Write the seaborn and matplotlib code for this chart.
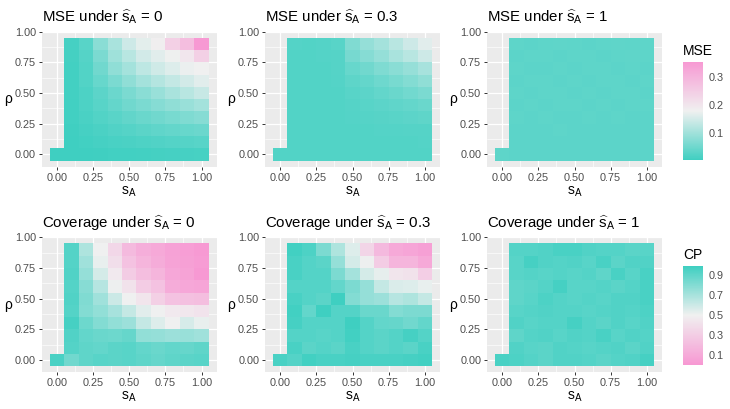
import pandas as pd
import matplotlib
matplotlib.use("Agg")
import matplotlib.pyplot as plt
import seaborn as sns
from matplotlib.colors import LinearSegmentedColormap

# grade dos parâmetros (colunas: s_A, linhas: rho de cima para baixo)
s_a = [0.0, 0.1, 0.2, 0.3, 0.4, 0.5, 0.6, 0.7, 0.8, 0.9, 1.0]
rho = [0.9, 0.8, 0.7, 0.6, 0.5, 0.4, 0.3, 0.2, 0.1, 0.0]
s_hat = ["0", "0.3", "1"]

axis_breaks = [0.0, 0.25, 0.5, 0.75, 1.0]
axis_labels = ["0.00", "0.25", "0.50", "0.75", "1.00"]
minor_breaks = [0.125, 0.375, 0.625, 0.875]
mse_ticks = [0.1, 0.2, 0.3]
cp_ticks = [0.1, 0.3, 0.5, 0.7, 0.9]

# MSE sob s_hat = 0
mse_0 = [
    [None, 0.012, 0.030, 0.080, 0.110, 0.145, 0.167, 0.183, 0.245, 0.280, 0.355],
    [None, 0.011, 0.028, 0.065, 0.100, 0.125, 0.150, 0.165, 0.178, 0.200, 0.245],
    [None, 0.010, 0.025, 0.055, 0.085, 0.105, 0.130, 0.148, 0.162, 0.175, 0.180],
    [None, 0.010, 0.025, 0.045, 0.065, 0.085, 0.105, 0.120, 0.135, 0.150, 0.165],
    [None, 0.010, 0.020, 0.035, 0.050, 0.065, 0.080, 0.095, 0.110, 0.125, 0.140],
    [None, 0.009, 0.020, 0.030, 0.042, 0.055, 0.065, 0.075, 0.085, 0.095, 0.105],
    [None, 0.008, 0.017, 0.025, 0.032, 0.040, 0.048, 0.055, 0.062, 0.068, 0.075],
    [None, 0.007, 0.013, 0.018, 0.023, 0.028, 0.033, 0.038, 0.042, 0.046, 0.050],
    [None, 0.006, 0.009, 0.012, 0.015, 0.018, 0.021, 0.024, 0.026, 0.028, 0.030],
    [0.005, 0.005, 0.006, 0.007, 0.008, 0.009, 0.010, 0.011, 0.012, 0.013, 0.014],
]

# MSE sob s_hat = 0.3
mse_03 = [
    [None, 0.026, 0.025, 0.026, 0.030, 0.070, 0.090, 0.105, 0.125, 0.145, 0.165],
    [None, 0.025, 0.025, 0.026, 0.028, 0.060, 0.075, 0.090, 0.110, 0.125, 0.145],
    [None, 0.025, 0.025, 0.025, 0.027, 0.045, 0.055, 0.068, 0.080, 0.092, 0.108],
    [None, 0.025, 0.025, 0.025, 0.026, 0.036, 0.043, 0.052, 0.062, 0.072, 0.085],
    [None, 0.025, 0.025, 0.025, 0.025, 0.030, 0.035, 0.041, 0.048, 0.056, 0.065],
    [None, 0.025, 0.025, 0.025, 0.025, 0.027, 0.030, 0.034, 0.038, 0.043, 0.048],
    [None, 0.025, 0.025, 0.025, 0.025, 0.026, 0.027, 0.029, 0.031, 0.034, 0.037],
    [None, 0.025, 0.025, 0.025, 0.025, 0.025, 0.025, 0.026, 0.026, 0.027, 0.028],
    [None, 0.025, 0.025, 0.025, 0.025, 0.025, 0.025, 0.025, 0.025, 0.025, 0.026],
    [0.025, 0.025, 0.025, 0.025, 0.025, 0.025, 0.025, 0.025, 0.025, 0.025, 0.025],
]

# MSE sob s_hat = 1
mse_1 = [
    [None, 0.036, 0.035, 0.036, 0.037, 0.036, 0.035, 0.036, 0.037, 0.036, 0.036],
    [None, 0.035, 0.036, 0.036, 0.035, 0.036, 0.036, 0.035, 0.036, 0.037, 0.036],
    [None, 0.036, 0.035, 0.035, 0.036, 0.035, 0.036, 0.036, 0.035, 0.036, 0.035],
    [None, 0.035, 0.036, 0.036, 0.035, 0.036, 0.035, 0.036, 0.036, 0.035, 0.036],
    [None, 0.036, 0.035, 0.036, 0.036, 0.035, 0.036, 0.035, 0.036, 0.036, 0.035],
    [None, 0.035, 0.036, 0.035, 0.036, 0.036, 0.035, 0.036, 0.035, 0.036, 0.036],
    [None, 0.036, 0.035, 0.036, 0.035, 0.035, 0.036, 0.035, 0.036, 0.035, 0.035],
    [None, 0.035, 0.035, 0.035, 0.036, 0.035, 0.035, 0.034, 0.035, 0.035, 0.034],
    [None, 0.035, 0.034, 0.035, 0.035, 0.034, 0.035, 0.034, 0.034, 0.035, 0.034],
    [0.036, 0.035, 0.034, 0.034, 0.035, 0.034, 0.034, 0.034, 0.035, 0.034, 0.034],
]

# cobertura sob s_hat = 0
cp_0 = [
    [None, 0.93, 0.68, 0.50, 0.36, 0.20, 0.13, 0.10, 0.06, 0.04, 0.02],
    [None, 0.93, 0.72, 0.52, 0.40, 0.24, 0.17, 0.12, 0.07, 0.05, 0.03],
    [None, 0.94, 0.75, 0.58, 0.46, 0.30, 0.22, 0.17, 0.09, 0.07, 0.01],
    [None, 0.93, 0.79, 0.66, 0.51, 0.42, 0.30, 0.24, 0.12, 0.09, 0.08],
    [None, 0.94, 0.81, 0.72, 0.60, 0.50, 0.44, 0.32, 0.24, 0.23, 0.22],
    [None, 0.93, 0.80, 0.76, 0.70, 0.62, 0.54, 0.50, 0.46, 0.45, 0.43],
    [None, 0.97, 0.86, 0.80, 0.76, 0.73, 0.62, 0.55, 0.50, 0.57, 0.52],
    [None, 0.94, 0.89, 0.87, 0.86, 0.88, 0.76, 0.75, 0.73, 0.74, 0.72],
    [None, 0.93, 0.90, 0.89, 0.91, 0.92, 0.89, 0.87, 0.89, 0.88, 0.90],
    [0.96, 0.85, 0.90, 0.92, 0.91, 0.92, 0.90, 0.88, 0.90, 0.91, 0.92],
]

# cobertura sob s_hat = 0.3
cp_03 = [
    [None, 0.98, 0.95, 0.82, 0.68, 0.55, 0.35, 0.19, 0.10, 0.08, 0.05],
    [None, 0.96, 0.93, 0.91, 0.75, 0.58, 0.51, 0.30, 0.17, 0.17, 0.10],
    [None, 0.96, 0.93, 0.93, 0.82, 0.71, 0.58, 0.53, 0.44, 0.42, 0.31],
    [None, 0.93, 0.93, 0.93, 0.89, 0.82, 0.75, 0.62, 0.56, 0.55, 0.52],
    [None, 0.96, 0.93, 0.91, 0.99, 0.80, 0.75, 0.73, 0.66, 0.68, 0.62],
    [None, 0.98, 0.89, 0.99, 0.93, 0.93, 0.87, 0.87, 0.80, 0.82, 0.82],
    [None, 0.97, 0.93, 0.93, 0.93, 0.99, 0.93, 0.89, 0.88, 0.85, 0.89],
    [None, 0.93, 0.93, 0.92, 0.93, 0.98, 0.93, 0.91, 0.93, 0.97, 0.93],
    [None, 0.96, 0.91, 0.93, 0.91, 0.96, 0.93, 0.91, 0.93, 0.91, 0.96],
    [0.96, 0.93, 0.98, 0.96, 0.96, 0.97, 0.96, 0.96, 0.96, 0.97, 0.98],
]

# cobertura sob s_hat = 1
cp_1 = [
    [None, 0.93, 0.93, 0.94, 0.96, 0.96, 0.94, 0.93, 0.93, 0.91, 0.92],
    [None, 0.92, 0.97, 0.94, 0.93, 0.94, 0.92, 0.96, 0.91, 0.94, 0.94],
    [None, 0.92, 0.93, 0.92, 0.93, 0.92, 0.93, 0.90, 0.96, 0.92, 0.96],
    [None, 0.90, 0.91, 0.93, 0.97, 0.92, 0.92, 0.93, 0.91, 0.93, 0.96],
    [None, 0.90, 0.92, 0.95, 0.93, 0.92, 0.93, 0.92, 0.94, 0.94, 0.96],
    [None, 0.92, 0.93, 0.94, 0.93, 0.93, 0.92, 0.93, 0.94, 0.93, 0.95],
    [None, 0.94, 0.92, 0.93, 0.93, 0.97, 0.93, 0.91, 0.94, 0.92, 0.94],
    [None, 0.90, 0.93, 0.94, 0.92, 0.94, 0.93, 0.96, 0.92, 0.94, 0.93],
    [None, 0.94, 0.92, 0.91, 0.94, 0.93, 0.92, 0.93, 0.94, 0.91, 0.94],
    [0.96, 0.95, 0.93, 0.91, 0.94, 0.94, 0.93, 0.91, 0.93, 0.94, 0.97],
]

teal = "#3FCFC1"
mid = "#F0F0F0"
pink = "#F799D3"

sns.set_theme(style="darkgrid", rc={
    "axes.facecolor": "#EBEBEB",
    "grid.color": "white",
    "axes.edgecolor": "none",
})
plt.rcParams["font.family"] = ["Liberation Sans", "DejaVu Sans"]
plt.rcParams["mathtext.fontset"] = "custom"
plt.rcParams["mathtext.rm"] = "Liberation Sans"
plt.rcParams["mathtext.it"] = "Liberation Sans:italic"


def to_frame(rows):
    df = pd.DataFrame(rows, index=rho, columns=s_a, dtype=float)
    return df.sort_index()


def cell(v):
    # posição na escala categórica do heatmap (passo 0.1)
    return v / 0.1 + 0.5


mse_frames = [to_frame(m) for m in (mse_0, mse_03, mse_1)]
cp_frames = [to_frame(m) for m in (cp_0, cp_03, cp_1)]

rows_spec = [
    ("MSE", mse_frames, LinearSegmentedColormap.from_list("mse", [teal, mid, pink]), mse_ticks),
    ("Coverage", cp_frames, LinearSegmentedColormap.from_list("cp", [pink, mid, teal]), cp_ticks),
]
legend_titles = ["MSE", "CP"]

fig = plt.figure(figsize=(7.3, 4.09), dpi=100)
W, H = 730, 409
col_left = [41.7, 265, 487]
panel_w = 175
row_top = [31.7, 237.3]
panel_h = 135
cbar_top = [61.7, 266]

x_lo = s_a[0] - 0.05
x_hi = s_a[-1] + 0.05
x_pad = 0.05 * (x_hi - x_lo)
y_lo = min(rho) - 0.05
y_hi = max(rho) + 0.05
y_pad = 0.05 * (y_hi - y_lo)

for r, (name, frames, cmap, cticks) in enumerate(rows_spec):
    vmin = min(f.min().min() for f in frames)
    vmax = max(f.max().max() for f in frames)
    cax = fig.add_axes([683.3 / W, 1 - (cbar_top[r] + 98.5) / H, 19.4 / W, 98.5 / H])
    for c, df in enumerate(frames):
        ax = fig.add_axes([col_left[c] / W, 1 - (row_top[r] + panel_h) / H, panel_w / W, panel_h / H])
        sns.heatmap(df, ax=ax, cmap=cmap, vmin=vmin, vmax=vmax,
                    cbar=(c == 2), cbar_ax=cax if c == 2 else None,
                    cbar_kws={"ticks": cticks},
                    xticklabels=False, yticklabels=False, linewidths=0)
        ax.set_xlim(cell(x_lo - x_pad), cell(x_hi + x_pad))
        ax.set_ylim(cell(y_lo - y_pad), cell(y_hi + y_pad))
        ax.set_xticks([cell(v) for v in axis_breaks])
        ax.set_xticklabels(axis_labels)
        ax.set_yticks([cell(v) for v in axis_breaks])
        ax.set_yticklabels(axis_labels)
        ax.set_xticks([cell(v) for v in minor_breaks], minor=True)
        ax.set_yticks([cell(v) for v in minor_breaks], minor=True)
        ax.set_axisbelow(True)
        ax.grid(True, which="major", color="white", linewidth=0.9)
        ax.grid(True, which="minor", color="white", linewidth=0.45)
        ax.tick_params(which="major", length=2.2, width=0.7, color="#333333",
                       labelsize=7.8, labelcolor="#4D4D4D", pad=2, bottom=True, left=True)
        ax.tick_params(which="minor", length=0)
        for sp in ax.spines.values():
            sp.set_visible(False)
        ax.set_title(name + r" under $\widehat{\mathrm{s}}_\mathrm{A}$ = " + s_hat[c],
                     loc="left", fontsize=10.8, pad=7, color="black")
        ax.set_xlabel(r"$\mathrm{s}_\mathrm{A}$", fontsize=10, color="black")
        ax.xaxis.set_label_coords(0.5, -25 / panel_h)
        ax.xaxis.label.set_va("center")
        ax.set_ylabel("ρ", fontsize=10, rotation=0, color="black")
        ax.yaxis.set_label_coords(-(col_left[0] - 8) / panel_w, 0.5)
        ax.yaxis.label.set_ha("center")
        ax.yaxis.label.set_va("center")

    cax.tick_params(direction="in", length=4, width=0.8, color="white",
                    labelcolor="#4D4D4D", labelsize=7.8, pad=4, left=True, right=True)
    cax.set_facecolor("white")
    fig.text(683.3 / W, 1 - (cbar_top[r] - 7) / H, legend_titles[r],
             fontsize=10, ha="left", va="baseline", color="black")

fig.savefig("out.png", dpi=100, facecolor="white")
